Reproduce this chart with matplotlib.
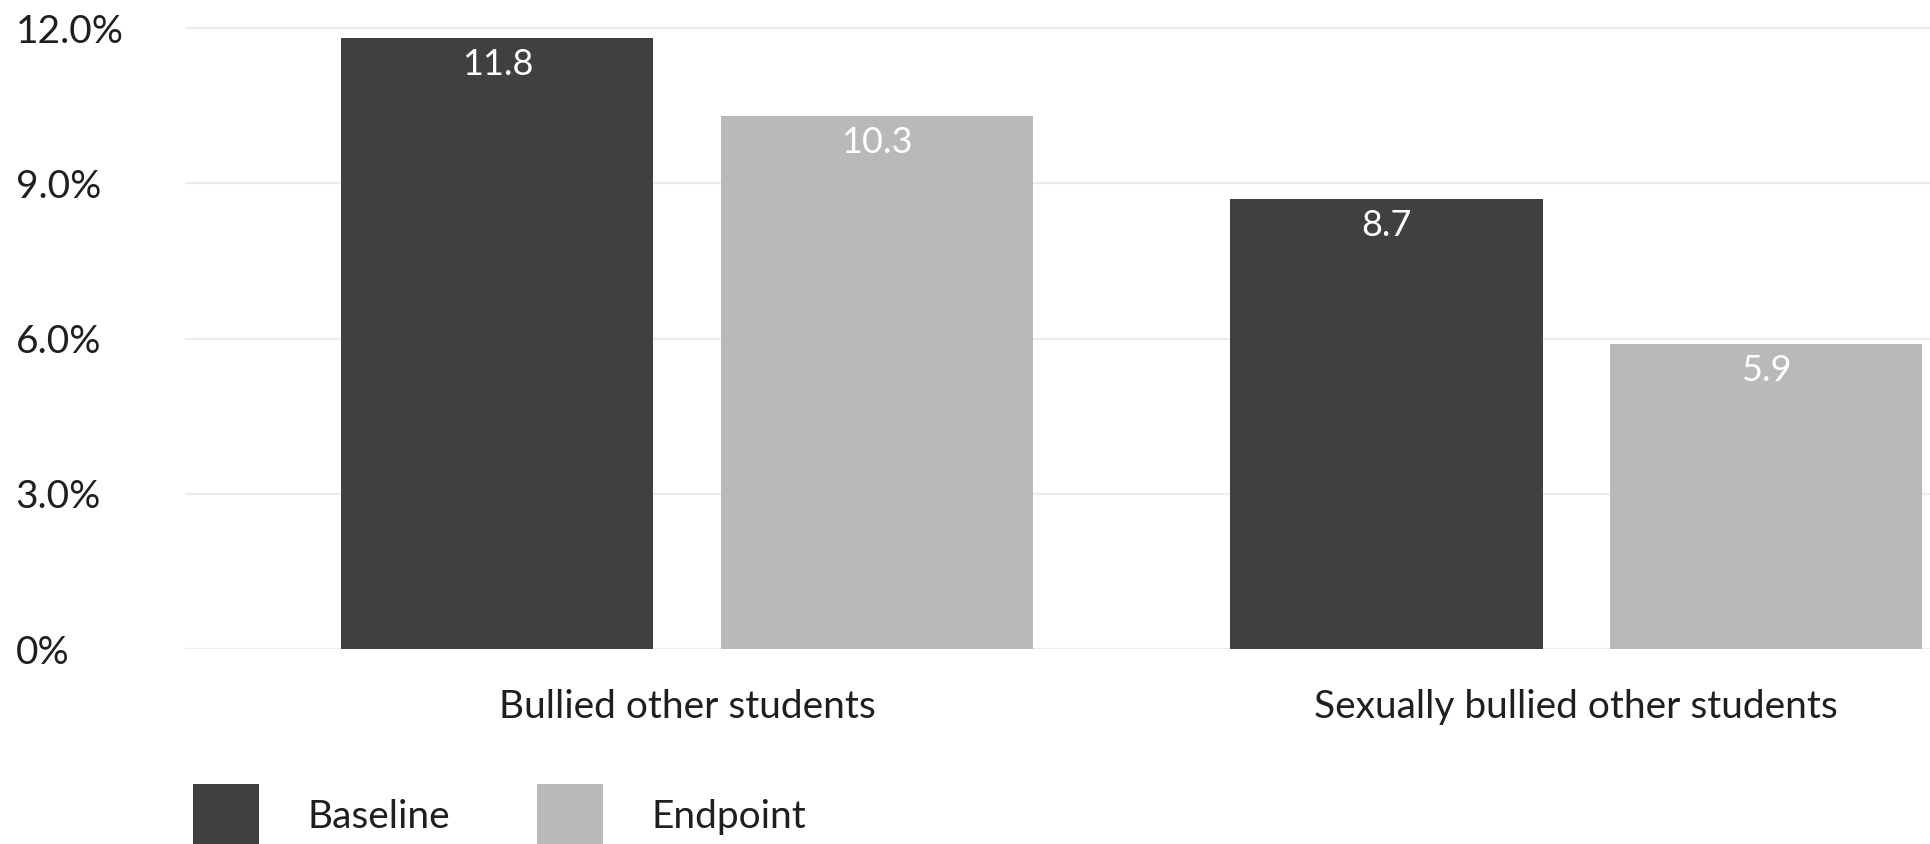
import matplotlib.pyplot as plt
import numpy as np
from matplotlib.patches import Patch

plt.rcParams["font.family"] = ["Lato", "DejaVu Sans"]

# Share of students reporting each behaviour, in percent.
categories = ["Bullied other students", "Sexually bullied other students"]
series_names = ["Baseline", "Endpoint"]
baseline = [11.8, 8.7]
endpoint = [10.3, 5.9]
y_ticks = [0, 3, 6, 9, 12]
y_tick_labels = ["0%", "3.0%", "6.0%", "9.0%", "12.0%"]

colors = ["#404040", "#b9b9b9"]
text_color = "#1f1f1f"

fig = plt.figure(figsize=(19.31, 8.44), dpi=100)
ax = fig.add_axes([0.0958, 0.231, 0.9042, 0.748])

x = np.arange(len(categories))
offset = 0.2135
width = 0.351

for i, (name, values) in enumerate(zip(series_names, [baseline, endpoint])):
    pos = x + (i * 2 - 1) * offset
    ax.bar(pos, values, width=width, color=colors[i], zorder=3, label=name)
    # value labels sit just inside the top of each bar
    for px, v in zip(pos, values):
        ax.annotate(f"{v:.1f}", xy=(px, v), xytext=(0, -19),
                    textcoords="offset points", ha="center", va="center",
                    color="white", fontsize=26, zorder=4)

ax.set_xlim(-0.565, 1.399)
ax.set_ylim(0, 12.2)

ax.set_yticks(y_ticks)
ax.set_yticklabels(y_tick_labels, ha="left")
ax.tick_params(axis="y", length=0, pad=122, labelsize=28, labelcolor=text_color)

ax.set_xticks(x)
ax.set_xticklabels(categories)
ax.tick_params(axis="x", length=0, pad=29, labelsize=28, labelcolor=text_color)

ax.grid(axis="y", color="#ececec", linewidth=1.6, zorder=0)
for s in ax.spines.values():
    s.set_visible(False)

handles = [Patch(facecolor=c, label=n) for c, n in zip(colors, series_names)]
fig.legend(handles=handles, loc="upper left", bbox_to_anchor=(0.1, 0.0711),
           ncol=2, frameon=False, fontsize=28, labelcolor=text_color,
           handlelength=1.7, handleheight=2.12, handletextpad=1.23,
           columnspacing=2.25, borderpad=0, borderaxespad=0)

fig.savefig("out.png", dpi=100)
